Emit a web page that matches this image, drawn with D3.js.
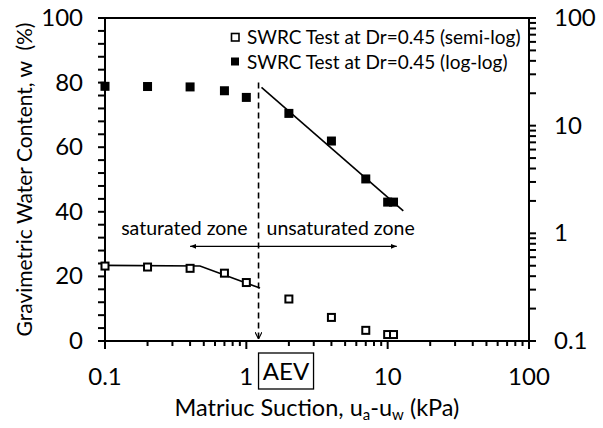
<!DOCTYPE html>
<html>
<head>
<meta charset="utf-8">
<script src="https://cdn.jsdelivr.net/npm/d3@7"></script>
<style>
  body { margin: 0; background: #fff; }
  svg text { font-family: Lato, "Open Sans", sans-serif; fill: #000; }
</style>
</head>
<body>
<svg id="chart" width="603" height="428"></svg>
<script>
// measured points, matric suction in kPa
let suction = [0.1, 0.2, 0.4, 0.7, 1.0, 2.0, 4.0, 7.0, 10.0, 11.0];
let wSemiLog = [23.2, 22.9, 22.5, 21.0, 18.1, 13.0, 7.3, 3.3, 2.0, 2.0];
let wLogLog = [23.2, 23.1, 22.9, 21.1, 18.3, 13.0, 7.2, 3.2, 1.95, 1.95];

// fitted lines
let semiFitX = [0.1, 0.47, 1.25];
let semiFitY = [23.4, 23.2, 16.4];
let logFitX = [1.28, 12.9];
let logFitY = [22.7, 1.62];

let aev = 1.22;
let xTicks = [0.1, 1, 10, 100];
let yLeftTicks = [0, 20, 40, 60, 80, 100];
let yRightTicks = [0.1, 1, 10, 100];

let margin = { left: 105, right: 74, top: 18, bottom: 87 };
let width = 603, height = 428;

let svg = d3.select("#chart");

let x = d3.scaleLog().domain([0.1, 100]).range([margin.left, width - margin.right]);
let yLeft = d3.scaleLinear().domain([0, 100]).range([height - margin.bottom, margin.top]);
let yRight = d3.scaleLog().domain([0.1, 100]).range([height - margin.bottom, margin.top]);

let x0 = x.range()[0], x1 = x.range()[1];
let y0 = yLeft.range()[0], y1 = yLeft.range()[1];

// minor ticks
let logMinor = [];
[0.1, 1, 10].forEach((d) => {
  for (let k = 2; k <= 9; k++) logMinor.push(d * k);
});
let leftMinor = d3.range(0, 101, 4);

let g = svg.append("g");

// x axis ticks
g.selectAll(".xminor")
  .data(logMinor)
  .enter()
  .append("line")
  .attr("x1", (d) => x(d))
  .attr("x2", (d) => x(d))
  .attr("y1", y0)
  .attr("y2", y0 + 5)
  .attr("stroke", "#000")
  .attr("stroke-width", 2);
g.selectAll(".xmajor")
  .data(xTicks)
  .enter()
  .append("line")
  .attr("x1", (d) => x(d))
  .attr("x2", (d) => x(d))
  .attr("y1", y0)
  .attr("y2", y0 + 8)
  .attr("stroke", "#000")
  .attr("stroke-width", 2);
g.selectAll(".xlab")
  .data(xTicks)
  .enter()
  .append("text")
  .attr("x", (d) => x(d))
  .attr("y", y0 + 44)
  .attr("text-anchor", "middle")
  .style("font-size", "24px")
  .text((d) => d);

// left axis ticks
g.selectAll(".ylminor")
  .data(leftMinor)
  .enter()
  .append("line")
  .attr("x1", x0 - 7)
  .attr("x2", x0)
  .attr("y1", (d) => yLeft(d))
  .attr("y2", (d) => yLeft(d))
  .attr("stroke", "#000")
  .attr("stroke-width", 2);
g.selectAll(".yllab")
  .data(yLeftTicks)
  .enter()
  .append("text")
  .attr("x", x0 - 22)
  .attr("y", (d) => yLeft(d) + 8)
  .attr("text-anchor", "end")
  .style("font-size", "24px")
  .text((d) => d);

// right axis ticks
g.selectAll(".yrminor")
  .data(logMinor.concat(yRightTicks))
  .enter()
  .append("line")
  .attr("x1", x1)
  .attr("x2", x1 + 7)
  .attr("y1", (d) => yRight(d))
  .attr("y2", (d) => yRight(d))
  .attr("stroke", "#000")
  .attr("stroke-width", 2);
g.selectAll(".yrlab")
  .data(yRightTicks)
  .enter()
  .append("text")
  .attr("x", x1 + 25)
  .attr("y", (d) => yRight(d) + 8)
  .attr("text-anchor", "start")
  .style("font-size", "24px")
  .text((d) => d);

// plot frame
g.append("rect")
  .attr("x", x0)
  .attr("y", y1)
  .attr("width", x1 - x0)
  .attr("height", y0 - y1)
  .attr("fill", "none")
  .attr("stroke", "#000")
  .attr("stroke-width", 2);

// markers
let defs = svg.append("defs");
defs.append("marker")
  .attr("id", "headFill")
  .attr("viewBox", "0 0 10 10")
  .attr("refX", 10).attr("refY", 5)
  .attr("markerWidth", 5).attr("markerHeight", 5)
  .attr("orient", "auto")
  .append("path")
  .attr("d", "M0,1 L10,5 L0,9 Z")
  .attr("fill", "#000");
defs.append("marker")
  .attr("id", "headOpen")
  .attr("viewBox", "0 0 10 10")
  .attr("refX", 10).attr("refY", 5)
  .attr("markerWidth", 7).attr("markerHeight", 7)
  .attr("markerUnits", "userSpaceOnUse")
  .attr("orient", "auto")
  .append("path")
  .attr("d", "M0,0 L10,5 L0,10")
  .attr("fill", "none")
  .attr("stroke", "#000")
  .attr("stroke-width", 1.6);

// AEV dashed line
g.append("line")
  .attr("x1", x(aev))
  .attr("x2", x(aev))
  .attr("y1", yLeft(80))
  .attr("y2", y0 - 2)
  .attr("stroke", "#000")
  .attr("stroke-width", 1.6)
  .attr("stroke-dasharray", "6,4")
  .attr("marker-end", "url(#headOpen)");

// zone arrows
let zoneY = 29.3;
g.append("line")
  .attr("x1", x(aev)).attr("x2", x(0.4))
  .attr("y1", yLeft(zoneY)).attr("y2", yLeft(zoneY))
  .attr("stroke", "#000").attr("stroke-width", 1.2)
  .attr("marker-end", "url(#headFill)");
g.append("line")
  .attr("x1", x(aev)).attr("x2", x(11.6))
  .attr("y1", yLeft(zoneY)).attr("y2", yLeft(zoneY))
  .attr("stroke", "#000").attr("stroke-width", 1.2)
  .attr("marker-end", "url(#headFill)");
g.append("text")
  .attr("x", x(aev) - 11)
  .attr("y", yLeft(zoneY) - 11)
  .attr("text-anchor", "end")
  .style("font-size", "19.5px")
  .text("saturated zone");
g.append("text")
  .attr("x", x(aev) + 8)
  .attr("y", yLeft(zoneY) - 11)
  .attr("text-anchor", "start")
  .style("font-size", "19.5px")
  .text("unsaturated zone");

// fit lines
let semiLine = d3.line().x((d, i) => x(semiFitX[i])).y((d) => yLeft(d));
g.append("path")
  .attr("d", semiLine(semiFitY))
  .attr("fill", "none")
  .attr("stroke", "#000")
  .attr("stroke-width", 1.6);
let logLine = d3.line().x((d, i) => x(logFitX[i])).y((d) => yRight(d));
g.append("path")
  .attr("d", logLine(logFitY))
  .attr("fill", "none")
  .attr("stroke", "#000")
  .attr("stroke-width", 1.6);

// data points
let sq = 9;
g.selectAll(".semi")
  .data(wSemiLog)
  .enter()
  .append("rect")
  .attr("x", (d, i) => x(suction[i]) - (sq - 2) / 2)
  .attr("y", (d) => yLeft(d) - (sq - 2) / 2)
  .attr("width", sq - 2)
  .attr("height", sq - 2)
  .attr("fill", "#fff")
  .attr("stroke", "#000")
  .attr("stroke-width", 2);
g.selectAll(".loglog")
  .data(wLogLog)
  .enter()
  .append("rect")
  .attr("x", (d, i) => x(suction[i]) - sq / 2)
  .attr("y", (d) => yRight(d) - sq / 2)
  .attr("width", sq)
  .attr("height", sq)
  .attr("fill", "#000");

// legend
let legend = [
  { label: "SWRC Test at Dr=0.45 (semi-log)", open: true },
  { label: "SWRC Test at Dr=0.45 (log-log)", open: false },
];
let lg = g.selectAll(".legend")
  .data(legend)
  .enter()
  .append("g")
  .attr("transform", (d, i) => "translate(235," + (37 + i * 24.5) + ")");
lg.append("rect")
  .attr("x", (d) => (d.open ? -3.5 : -4))
  .attr("y", (d) => (d.open ? -3.5 : -4))
  .attr("width", (d) => (d.open ? 7.5 : 8))
  .attr("height", (d) => (d.open ? 7.5 : 8))
  .attr("fill", (d) => (d.open ? "#fff" : "#000"))
  .attr("stroke", (d) => (d.open ? "#000" : "none"))
  .attr("stroke-width", 1.6);
lg.append("text")
  .attr("x", 12)
  .attr("y", 7)
  .style("font-size", "19px")
  .text((d) => d.label);

// AEV box
let aevG = g.append("g");
aevG.append("rect")
  .attr("x", x(aev))
  .attr("y", y0 + 12)
  .attr("width", 55)
  .attr("height", 36)
  .attr("fill", "none")
  .attr("stroke", "#000")
  .attr("stroke-width", 1.3);
aevG.append("text")
  .attr("x", x(aev) + 27.5)
  .attr("y", y0 + 39)
  .attr("text-anchor", "middle")
  .style("font-size", "24px")
  .text("AEV");

// axis titles
let xt = g.append("text")
  .attr("x", (x0 + x1) / 2)
  .attr("y", height - 12)
  .attr("text-anchor", "middle")
  .style("font-size", "23.5px");
xt.append("tspan").text("Matriuc Suction, u");
xt.append("tspan").attr("dy", 4).style("font-size", "15px").text("a");
xt.append("tspan").attr("dy", -4).text("-u");
xt.append("tspan").attr("dy", 4).style("font-size", "15px").text("w");
xt.append("tspan").attr("dy", -4).text(" (kPa)");

g.append("text")
  .attr("transform", "translate(32," + (y0 + y1) / 2 + ") rotate(-90)")
  .attr("text-anchor", "middle")
  .style("font-size", "21px")
  .style("white-space", "pre")
  .text("Gravimetric Water Content, w  (%)");
</script>
</body>
</html>
